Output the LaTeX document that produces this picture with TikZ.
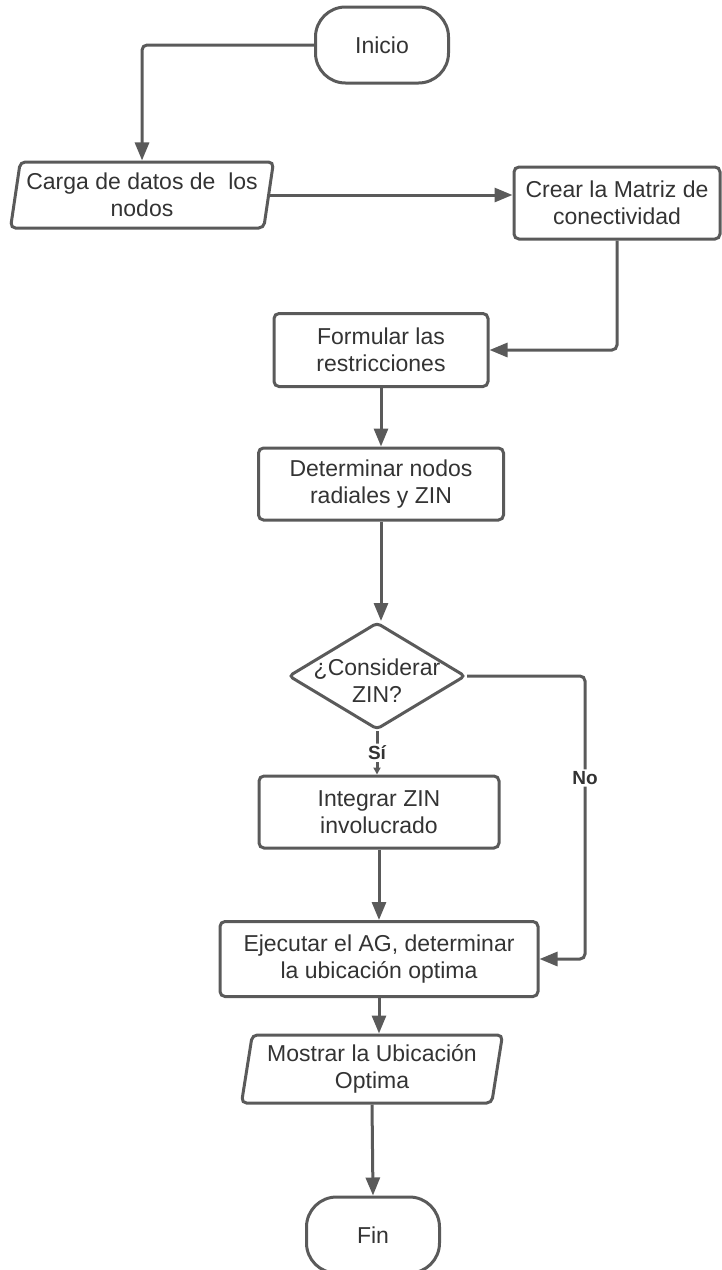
\documentclass[tikz,border=0pt]{standalone}
\usepackage{fontspec}
\setmainfont{Liberation Sans}
\usetikzlibrary{arrows.meta,shapes.geometric}
\definecolor{lnc}{HTML}{5A5A5A}
\definecolor{txc}{HTML}{333333}
\tikzset{
  term/.style={draw=lnc,line width=3pt,rounded corners=30pt,minimum width=133pt,minimum height=76pt,text=txc},
  proc/.style={draw=lnc,line width=3pt,rounded corners=5pt,minimum width=#1,minimum height=73pt,
               align=center,text=txc,inner sep=2pt},
  proc/.default=214pt,
  io/.style={draw=lnc,line width=3pt,rounded corners=5pt,trapezium,trapezium left angle=78,
             trapezium right angle=102,trapezium stretches body,minimum width=#1,minimum height=66pt,
             align=center,text=txc,inner sep=1pt},
  choice/.style={draw=lnc,line width=3pt,rounded corners=4pt,diamond,minimum width=177pt,
                 minimum height=107pt,inner sep=0pt,text=txc},
  flow/.style={-{Triangle[length=18pt,width=14pt]},draw=lnc,line width=3pt,rounded corners=5pt},
  tag/.style={font=\fontsize{19}{22}\selectfont\bfseries,text=txc,fill=white,inner sep=2pt},
}
\begin{document}
\begin{tikzpicture}[x=1pt,y=-1pt,font=\fontsize{23}{27}\selectfont]
  \useasboundingbox (0,0) rectangle (722,1270);
  \node[term] (ini) at (382,45) {Inicio};
  \node[io=263pt] (carga) at (142,195) {Carga de datos de\ \ los\\nodos};
  \node[proc=206pt,minimum height=72pt] (crear) at (617,203) {Crear la Matriz de\\conectividad};
  \node[proc] (form) at (381,350) {Formular las\\restricciones};
  \node[proc=245pt,minimum height=72pt] (det) at (381,484) {Determinar nodos\\radiales y ZIN};
  \node[choice] (zin) at (377,676) {\makebox[0pt][c]{\raisebox{-8pt}[\height][\depth]{\begin{tabular}{@{}c@{}}¿Considerar\\ZIN?\end{tabular}}}};
  \coordinate (nocol) at (585,676);
  \node[proc=240pt,minimum height=72pt] (integ) at (379,812) {Integrar ZIN\\involucrado};
  \node[proc=318pt,minimum height=75pt] (ejec) at (379,959) {Ejecutar el AG, determinar\\la ubicación optima};
  \node[io=261pt,minimum height=68pt] (most) at (372,1069) {Mostrar la Ubicación\\Optima};
  \node[term] (fin) at (373,1235) {Fin};
  \draw[flow] (ini.west) -| (carga.north);
  \draw[flow] (carga.east) -- (carga.east -| crear.west);
  \draw[flow] (crear.south) |- (form.east);
  \draw[flow] (form) -- (det);
  \draw[flow] (det.south) -- (det.south |- zin.north);
  \draw[flow,-{Triangle[length=7pt,width=7pt]}] (zin.south) -- node[tag]{Sí} (zin.south |- integ.north);
  \draw[flow] (zin.east) -- (nocol) -- node[tag,pos=0.36]{No} (nocol |- ejec.east) -- (ejec.east);
  \draw[flow] (integ) -- (ejec);
  \draw[flow] (ejec.south) -- (ejec.south |- most.north);
  \draw[flow] (most.south) -- (fin.north);
\end{tikzpicture}
\end{document}
